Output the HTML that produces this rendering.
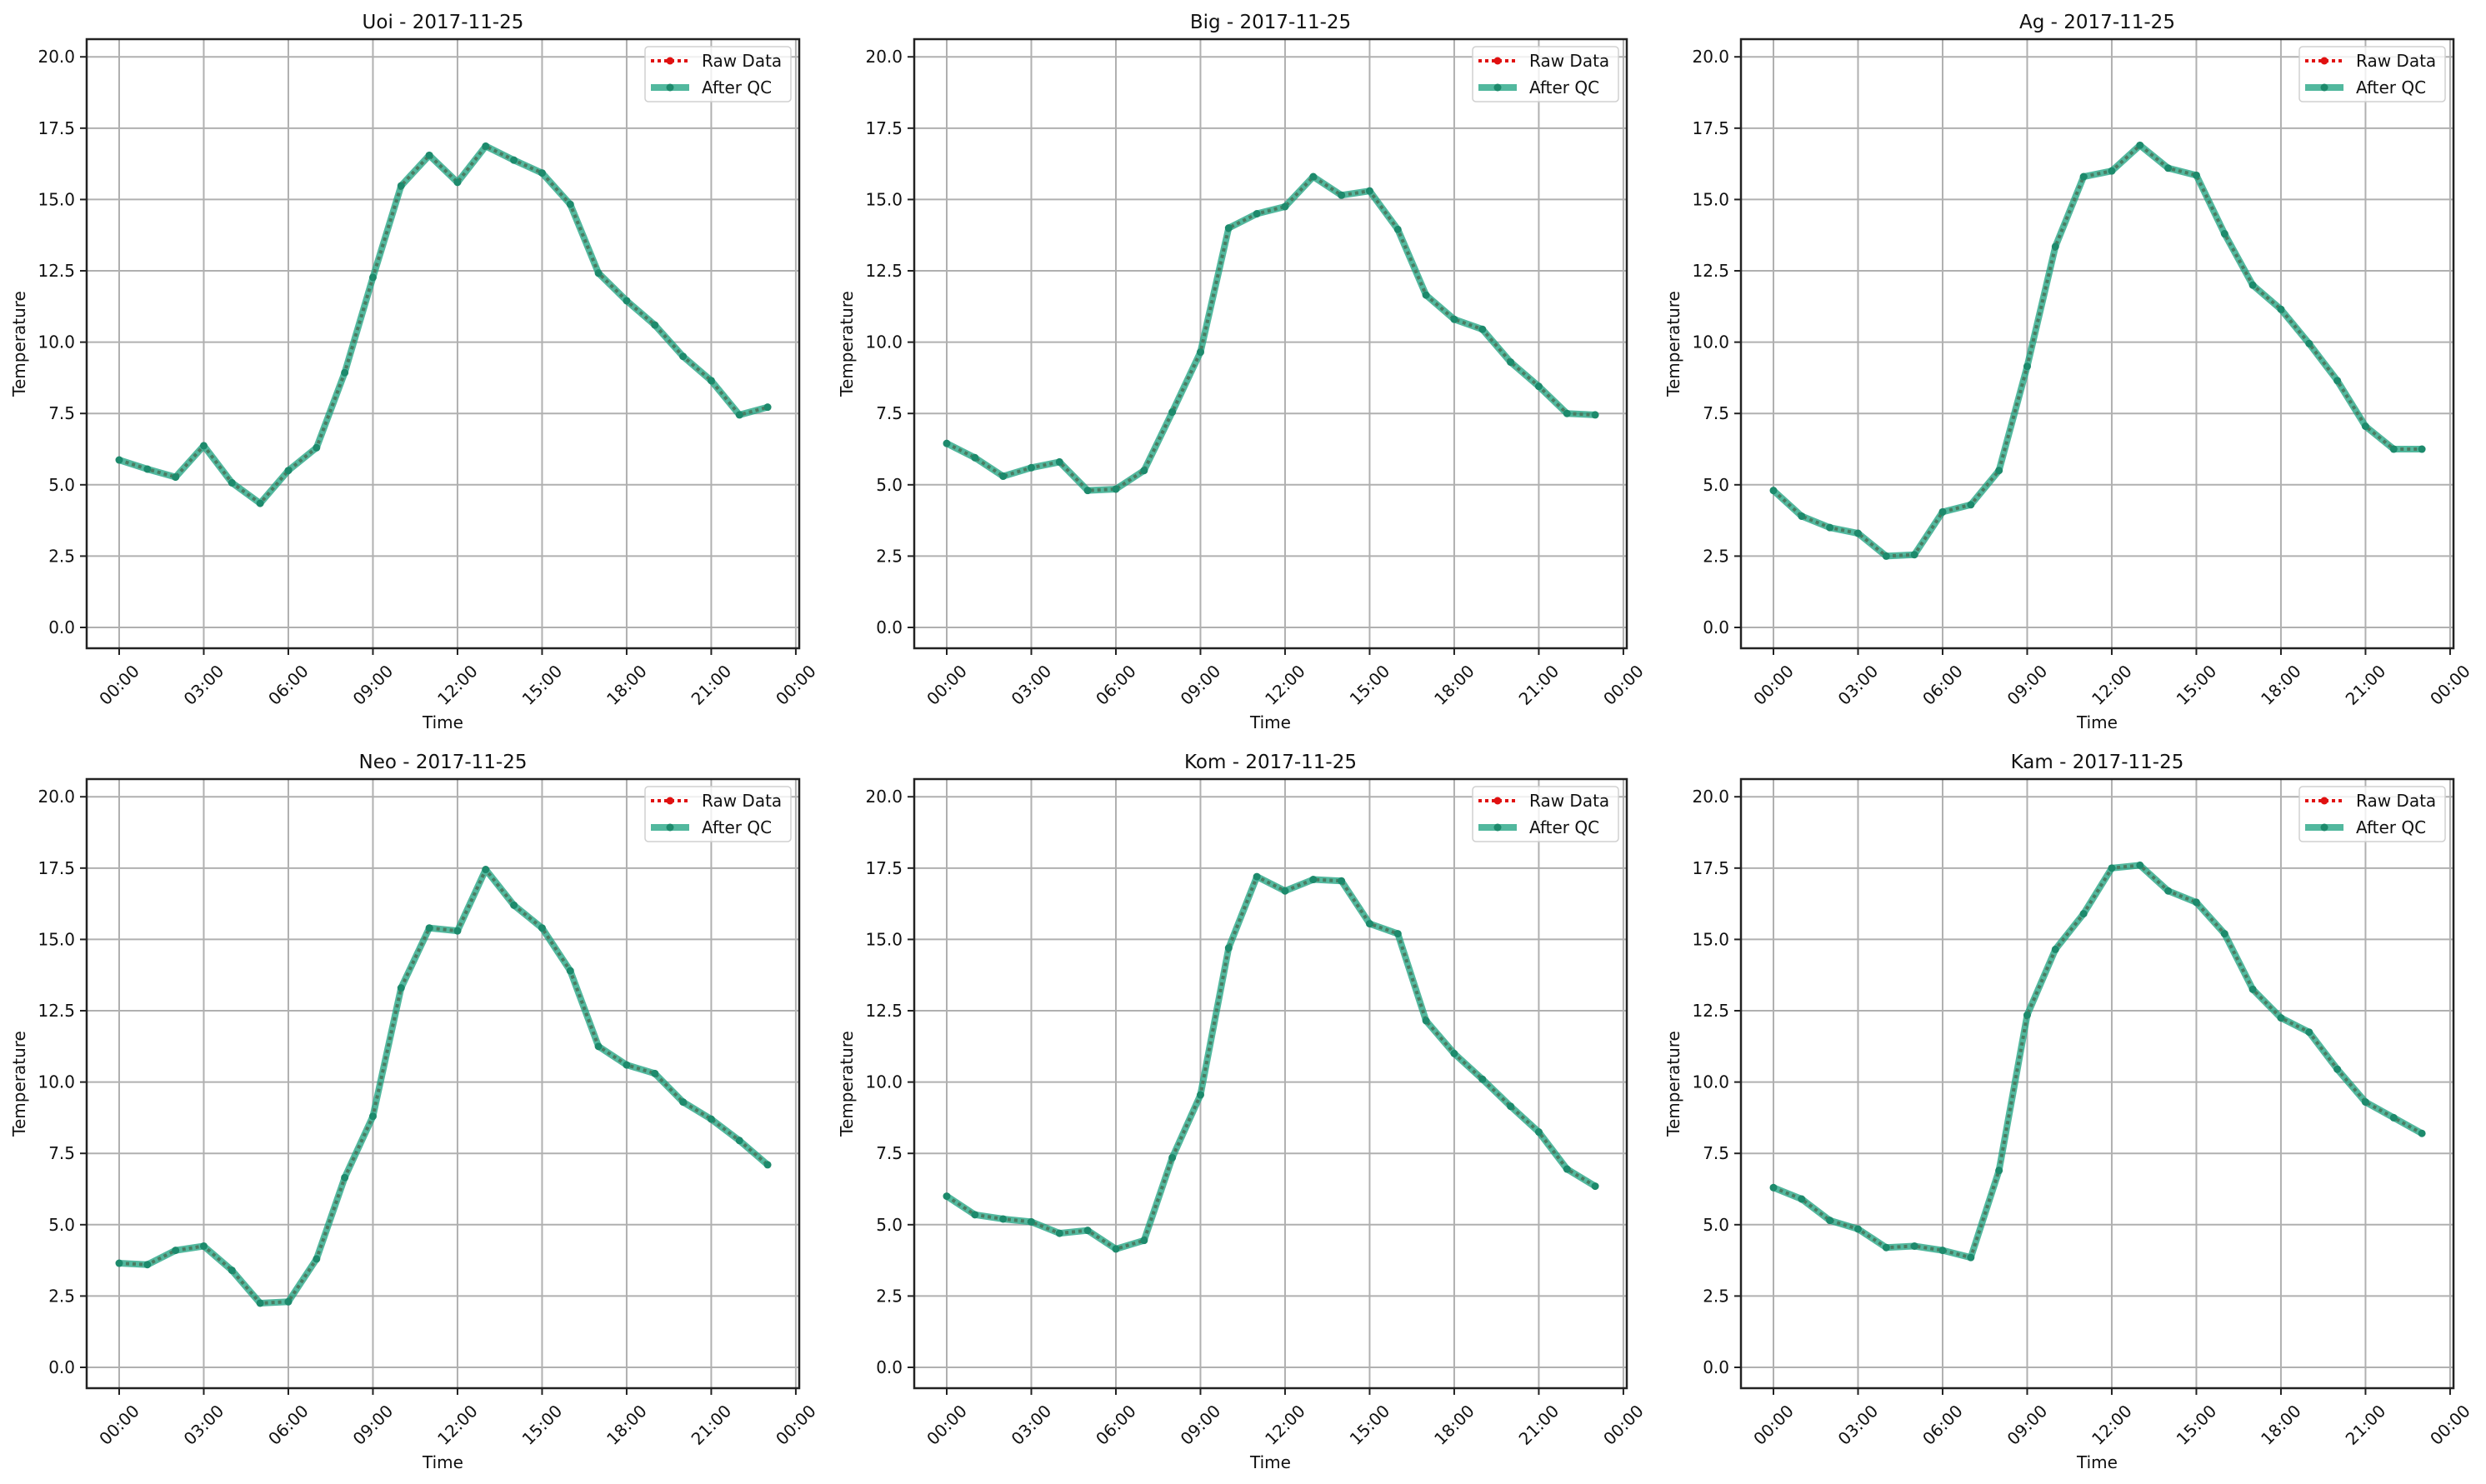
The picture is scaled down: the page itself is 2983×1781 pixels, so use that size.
<!DOCTYPE html>
<html><head><meta charset="utf-8"><style>
html,body{margin:0;padding:0;background:#fff;}
svg{display:block;font-family:"DejaVu Sans","Liberation Sans",sans-serif;}
</style></head><body>
<svg id="fig" width="2983" height="1781" viewBox="0 0 2983 1781" xmlns="http://www.w3.org/2000/svg"></svg>
<script>
const stations = ["Uoi","Big","Ag","Neo","Kom","Kam"];
const dateLabel = "2017-11-25";
const hours = [0,1,2,3,4,5,6,7,8,9,10,11,12,13,14,15,16,17,18,19,20,21,22,23];
const uoiTemp = [5.87,5.55,5.27,6.37,5.07,4.35,5.5,6.3,8.93,12.27,15.48,16.55,15.6,16.87,16.38,15.93,14.83,12.42,11.45,10.6,9.5,8.65,7.45,7.72];
const bigTemp = [6.45,5.95,5.3,5.6,5.8,4.8,4.85,5.5,7.55,9.65,14.0,14.5,14.75,15.8,15.15,15.3,13.95,11.65,10.8,10.45,9.3,8.45,7.5,7.45];
const agTemp = [4.8,3.9,3.5,3.3,2.5,2.55,4.05,4.3,5.5,9.15,13.35,15.8,16.0,16.9,16.1,15.85,13.8,12.0,11.15,9.95,8.65,7.05,6.25,6.25];
const neoTemp = [3.65,3.6,4.1,4.25,3.4,2.25,2.3,3.8,6.65,8.8,13.3,15.4,15.3,17.45,16.2,15.4,13.9,11.25,10.6,10.3,9.3,8.7,7.95,7.1];
const komTemp = [6.0,5.35,5.2,5.1,4.7,4.8,4.15,4.45,7.35,9.55,14.7,17.2,16.7,17.1,17.05,15.55,15.2,12.15,11.0,10.1,9.15,8.25,6.95,6.35];
const kamTemp = [6.3,5.9,5.15,4.85,4.2,4.25,4.1,3.85,6.9,12.35,14.65,15.9,17.5,17.6,16.7,16.3,15.2,13.25,12.25,11.75,10.45,9.3,8.75,8.2];
const yTicks = [0,2.5,5,7.5,10,12.5,15,17.5,20];
const yTickLabels = ["0.0","2.5","5.0","7.5","10.0","12.5","15.0","17.5","20.0"];
const xTickHours = [0,3,6,9,12,15,18,21,24];
const xTickLabels = ["00:00","03:00","06:00","09:00","12:00","15:00","18:00","21:00","00:00"];

const series = [uoiTemp,bigTemp,agTemp,neoTemp,komTemp,kamTemp];
const NS = "http://www.w3.org/2000/svg";
const fig = document.getElementById("fig");
function mk(tag, attrs, parent){
  const e = document.createElementNS(NS, tag);
  for (const k in attrs) e.setAttribute(k, attrs[k]);
  (parent||fig).appendChild(e);
  return e;
}
const colLefts = [104,1097,2089];
const rowTops = [47,935];
const W = 855, H = 731;
const yMin = -0.73, yMax = 20.62;

series.forEach((vals, i) => {
  const L = colLefts[i%3], T = rowTops[Math.floor(i/3)];
  const g = mk("g", {});
  
  
  const xs = h => L + 39 + h * 33.83;
  const ys = v => T + H - (v - yMin) / (yMax - yMin) * H;
  yTicks.forEach((t, k) => {
    const y = ys(t);
    const gl = mk("line", {x1:L, x2:L+W, y1:y, y2:y, stroke:"#b0b0b0", "stroke-width":2}, g);
    
    
    mk("line", {x1:L-8, x2:L, y1:y, y2:y, stroke:"#222", "stroke-width":2}, g);
    const tl = mk("text", {x:L-14, y:y+7, "text-anchor":"end", "font-size":20, fill:"#111"}, g);
    tl.textContent = yTickLabels[k];
    
    
  });
  xTickHours.forEach((h, k) => {
    const x = xs(h);
    const gl = mk("line", {x1:x, x2:x, y1:T, y2:T+H, stroke:"#b0b0b0", "stroke-width":2}, g);
    
    
    mk("line", {x1:x, x2:x, y1:T+H, y2:T+H+8, stroke:"#222", "stroke-width":2}, g);
    const cy = T + H + 44;
    const tl = mk("text", {x:x, y:cy+7, "text-anchor":"middle", "font-size":20, fill:"#111", transform:"rotate(-45 "+x+" "+cy+")"}, g);
    tl.textContent = xTickLabels[k];
    
    
  });
  const pts = hours.map((h, k) => xs(h) + "," + ys(vals[k])).join(" ");
  const raw = mk("polyline", {points:pts, fill:"none", stroke:"#e01010", "stroke-width":4, "stroke-dasharray":"4 4"}, g);
  
  
  const qc = mk("polyline", {points:pts, fill:"none", stroke:"#18a07e", "stroke-opacity":0.75, "stroke-width":8, "stroke-linejoin":"round"}, g);
  
  
  hours.forEach((h, k) => {
    const c = mk("circle", {cx:xs(h), cy:ys(vals[k]), r:4.5, fill:"#1d8a6c"}, g);
    
    
  });
  const fr = mk("rect", {x:L, y:T, width:W, height:H, fill:"none", stroke:"#222", "stroke-width":2.5}, g);
  
  
  const tt = mk("text", {x:L+W/2, y:T-13, "text-anchor":"middle", "font-size":23, fill:"#111"}, g);
  tt.textContent = stations[i] + " - " + dateLabel;
  
  
  const xl = mk("text", {x:L+W/2, y:T+H+96, "text-anchor":"middle", "font-size":20, fill:"#111"}, g);
  xl.textContent = "Time";
  
  
  const yx = L-74, yy = T+H/2;
  const yl = mk("text", {x:yx, y:yy, "text-anchor":"middle", "font-size":20, fill:"#111", transform:"rotate(-90 "+yx+" "+yy+")"}, g);
  yl.textContent = "Temperature";
  
  
  const lx = L + 670, ly = T + 9;
  const lg = mk("g", {}, g);
  
  
  mk("rect", {x:lx, y:ly, width:175, height:66, rx:4, fill:"#fff", "fill-opacity":0.8, stroke:"#d0d0d0", "stroke-width":1.5}, lg);
  mk("line", {x1:lx+7, x2:lx+53, y1:ly+17, y2:ly+17, stroke:"#e01010", "stroke-width":4, "stroke-dasharray":"4 4"}, lg);
  mk("circle", {cx:lx+30, cy:ly+17, r:4.5, fill:"#e01010"}, lg);
  const t1 = mk("text", {x:lx+68, y:ly+24, "font-size":20, fill:"#111"}, lg);
  t1.textContent = "Raw Data";
  
  
  mk("line", {x1:lx+7, x2:lx+53, y1:ly+49, y2:ly+49, stroke:"#18a07e", "stroke-opacity":0.75, "stroke-width":8}, lg);
  mk("circle", {cx:lx+30, cy:ly+49, r:4.5, fill:"#1d8a6c"}, lg);
  const t2 = mk("text", {x:lx+68, y:ly+56, "font-size":20, fill:"#111"}, lg);
  t2.textContent = "After QC";
  
  
});
</script>
</body></html>
